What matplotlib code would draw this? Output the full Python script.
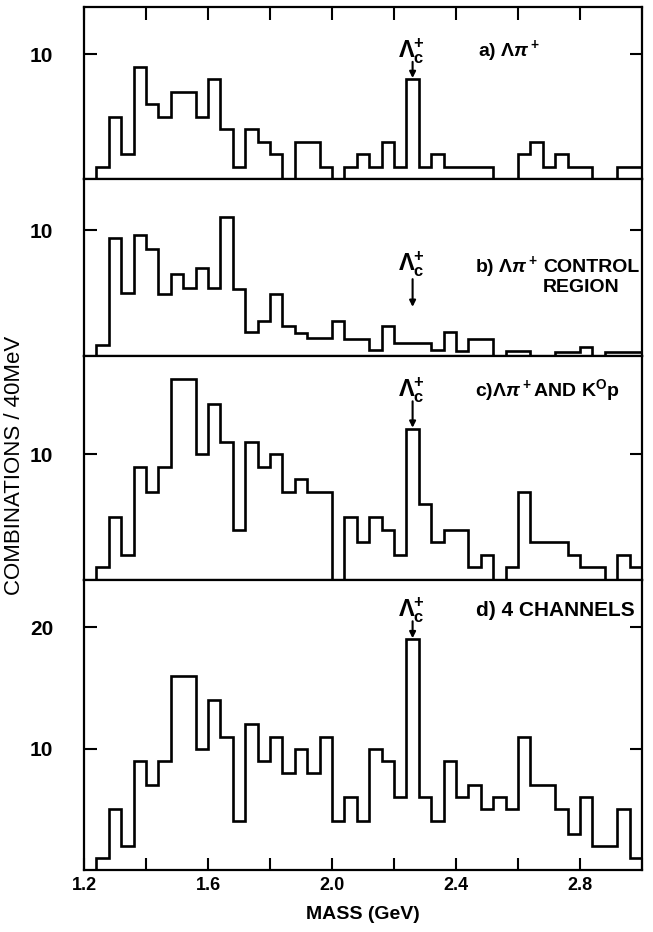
import numpy as np
import matplotlib
matplotlib.use("Agg")
import matplotlib.pyplot as plt

plt.rcParams["font.family"] = ["Liberation Sans", "DejaVu Sans"]
plt.rcParams["font.weight"] = "bold"
plt.rcParams["mathtext.fontset"] = "custom"
plt.rcParams["mathtext.rm"] = "Liberation Sans:bold"
plt.rcParams["mathtext.it"] = "Liberation Sans:bold:italic"
plt.rcParams["mathtext.bf"] = "Liberation Sans:bold"

# 45 bins of 40 MeV between 1.2 and 3.0 GeV
edges = np.round(np.linspace(1.20, 3.00, 46), 2)

lam_pi = [0, 1, 5, 2, 9, 6, 5, 7, 7, 5, 8, 4, 1, 4, 3, 2, 0, 3, 3, 1, 0, 1, 2,
          1, 3, 1, 8, 1, 2, 1, 1, 1, 1, 0, 0, 2, 3, 1, 2, 1, 1, 0, 0, 1, 1]
control = [0, 0.9, 9.4, 5.0, 9.6, 8.5, 4.9, 6.5, 5.4, 7.0, 5.4, 11.0, 5.3, 1.9,
           2.8, 4.9, 2.4, 1.8, 1.4, 1.4, 2.8, 1.35, 1.35,
           0.5, 2.4, 1.0, 1.0, 1.0, 0.5, 1.9, 0.4, 1.35, 1.35, 0, 0.4, 0.4, 0, 0,
           0.3, 0.3, 0.75, 0, 0.3, 0.3, 0.3]
lam_k0p = [0, 1, 5, 2, 9, 7, 9, 16, 16, 10, 14, 11, 4, 11, 9, 10, 7, 8, 7, 7, 0, 5, 3,
           5, 4, 2, 12, 6, 3, 4, 4, 1, 2, 0, 1, 7, 3, 3, 3, 2, 1, 1, 0, 2, 1]
four_ch = [0, 1, 5, 2, 9, 7, 9, 16, 16, 10, 14, 11, 4, 12, 9, 11, 8, 10, 8, 11, 4, 6, 4,
           10, 9, 6, 19, 6, 4, 9, 6, 7, 5, 6, 5, 11, 7, 7, 5, 3, 6, 2, 2, 5, 1]

lc_mass = 2.26
x_ticks = [1.2, 1.4, 1.6, 1.8, 2.0, 2.2, 2.4, 2.6, 2.8, 3.0]
x_labels = ["1.2", "", "1.6", "", "2.0", "", "2.4", "", "2.8", ""]

W, H = 653, 932
fig = plt.figure(figsize=(W / 100, H / 100), dpi=100)

# (top px, bottom px, ymax, yticks, series)
panels = [
    (7, 179, 13.8, [10], lam_pi),
    (179, 356, 14.05, [10], control),
    (356, 580, 17.8, [10], lam_k0p),
    (580, 870, 23.9, [10, 20], four_ch),
]
x0, x1 = 84, 642
axes = []
for top, bot, ymax, yt, vals in panels:
    ax = fig.add_axes([x0 / W, 1 - bot / H, (x1 - x0) / W, (bot - top) / H])
    ax.stairs(vals, edges, baseline=0, color="k", lw=1.9)
    ax.set_xlim(1.2, 3.0)
    ax.set_ylim(0, ymax)
    ax.set_yticks(yt)
    ax.set_yticklabels([str(t) for t in yt], fontsize=15, fontweight="bold")
    ax.tick_params(axis="y", direction="in", length=9, width=1.5, left=True,
                   right=True, pad=22)
    ax.set_xticks(x_ticks)
    ax.tick_params(axis="x", direction="in", length=9, width=1.5,
                   top=False, bottom=False, labelbottom=False)
    for s in ax.spines.values():
        s.set_linewidth(1.6)
    axes.append(ax)

axes[0].tick_params(axis="x", top=True)
axes[3].tick_params(axis="x", bottom=True, labelbottom=True, pad=5)
axes[3].set_xticklabels(x_labels, fontsize=13, fontweight="bold")

lc = r"$\Lambda_{\rm c}^{+}$"
arrow = dict(arrowstyle="-|>", lw=1.5, color="k", mutation_scale=9,
             shrinkA=0, shrinkB=0)
kw = dict(fontsize=14, fontweight="bold")
lkw = dict(fontsize=17, fontweight="bold", ha="center", va="baseline")

# a)
ax = axes[0]
ax.text(lc_mass - 0.005, 9.8, lc, **lkw)
ax.annotate("", xy=(lc_mass, 8.1), xytext=(lc_mass, 9.4), arrowprops=arrow)
ax.text(2.47, 9.9, r"a) $\Lambda\pi^+$", ha="left", va="baseline", **kw)

# b)
ax = axes[1]
ax.text(lc_mass - 0.005, 6.8, lc, **lkw)
ax.annotate("", xy=(lc_mass, 3.9), xytext=(lc_mass, 6.1), arrowprops=arrow)
ax.text(2.46, 6.7, r"b) $\Lambda\pi^+$", ha="left", va="baseline", **kw)
ax.text(2.68, 6.7, "CONTROL", ha="left", va="baseline", **kw)
ax.text(2.68, 5.1, "REGION", ha="left", va="baseline", **kw)

# c)
ax = axes[2]
ax.text(lc_mass - 0.005, 14.6, lc, **lkw)
ax.annotate("", xy=(lc_mass, 12.1), xytext=(lc_mass, 14.2), arrowprops=arrow)
ax.text(2.46, 14.6, r"c)$\Lambda\pi^+$AND K$^{\rm O}$p", ha="left",
        va="baseline", **kw)

# d)
ax = axes[3]
ax.text(lc_mass - 0.005, 20.9, lc, **lkw)
ax.annotate("", xy=(lc_mass, 19.1), xytext=(lc_mass, 20.5), arrowprops=arrow)
ax.text(2.465, 20.9, "d) 4 CHANNELS", ha="left", va="baseline",
        fontsize=15, fontweight="bold")

axes[3].set_xlabel("MASS (GeV)", fontsize=14, fontweight="bold", labelpad=9)
fig.text(15 / W, 1 - 465 / H, "COMBINATIONS / 40MeV", rotation=90,
         ha="center", va="center", fontsize=16, fontweight="normal")

fig.savefig("out.png", dpi=100)
